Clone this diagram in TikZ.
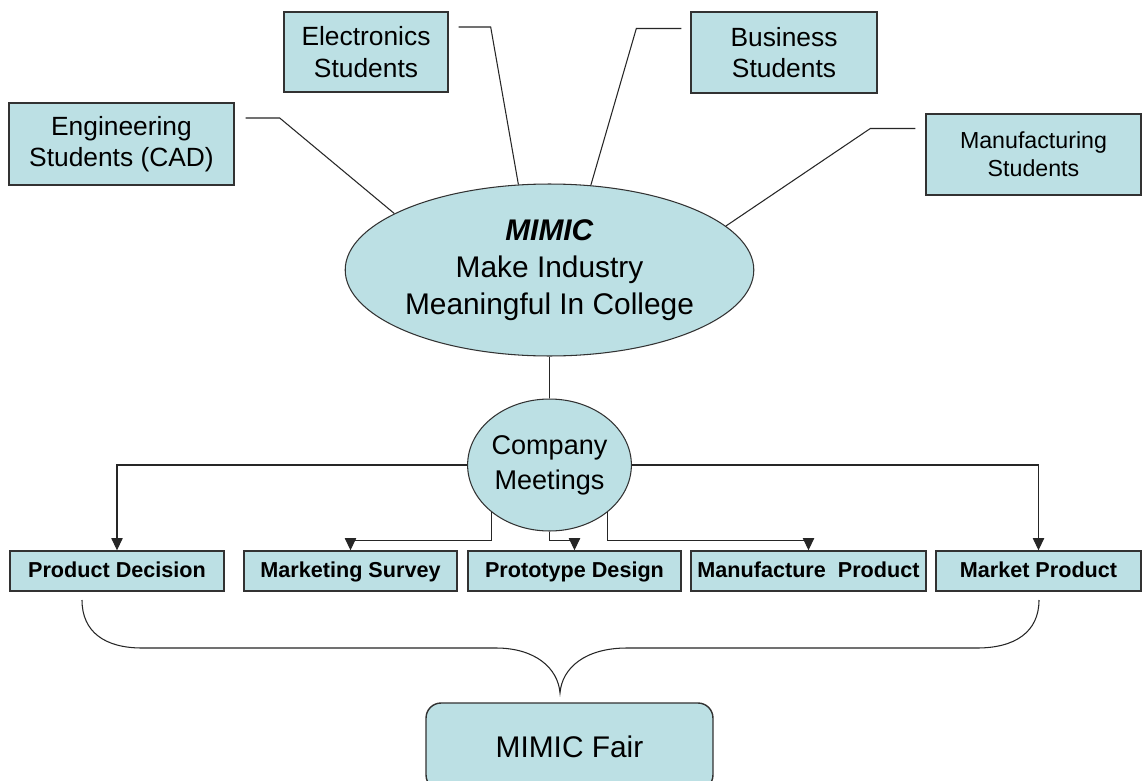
\documentclass[tikz,border=0pt]{standalone}
\usepackage{fontspec}
\setmainfont{Liberation Sans}
\usetikzlibrary{shapes.geometric,arrows.meta}
\definecolor{boxfill}{RGB}{188,224,228}
\definecolor{boxline}{RGB}{50,50,50}
\tikzset{
  student/.style={draw=boxline,fill=boxfill,line width=0.8pt,align=center,inner sep=0pt,font=\fontsize{15}{18}\selectfont},
  stage/.style={draw=boxline,fill=boxfill,line width=0.8pt,inner sep=0pt,minimum height=0.8cm,text height=0.72em,text depth=0pt,font=\bfseries\fontsize{12.3}{14}\selectfont},
  bubble/.style={ellipse,draw=boxline,fill=boxfill,line width=0.6pt,align=center,inner sep=0pt},
  link/.style={line width=0.6pt,black!85},
}
\begin{document}
\begin{tikzpicture}[x=0.02cm,y=-0.02cm,>={Triangle[length=7pt,width=6.5pt]}]
 \fill[white] (0,0) rectangle (1143,781);
 \useasboundingbox (0,0) rectangle (1143,781);
 % student groups
 \node[student,minimum width=4.5cm,minimum height=1.64cm] (eng) at (121.5,144) {Engineering\\Students (CAD)};
 \node[student,minimum width=3.28cm,minimum height=1.6cm] (elec) at (366,52) {Electronics\\Students};
 \node[student,minimum width=3.72cm,minimum height=1.62cm] (bus) at (784,52.5) {Business\\Students};
 \node[student,minimum width=4.3cm,minimum height=1.62cm,font=\fontsize{13.2}{16}\selectfont] (manu) at (1033.5,154.5) {Manufacturing\\Students};
 % centre and meetings
 \node[bubble,minimum width=7.34cm,minimum height=3.44cm,font=\fontsize{17}{21}\selectfont] (mimic) at (549.5,270) {\textbf{\textit{MIMIC}}\\Make Industry\\Meaningful In College};
 \node[bubble,minimum width=3.26cm,minimum height=2.64cm,font=\fontsize{15.4}{20}\selectfont] (meet) at (549.5,465) {Company\\Meetings};
 % stages
 \node[stage,minimum width=4.28cm] (pd) at (117,571) {Product Decision};
 \node[stage,minimum width=4.26cm] (ms) at (350.5,571) {Marketing Survey};
 \node[stage,minimum width=4.26cm] (pt) at (574.5,571) {Prototype Design};
 \node[stage,minimum width=4.7cm] (mp) at (808.5,571) {Manufacture\ \ Product};
 \node[stage,minimum width=4.1cm] (mk) at (1038.5,571) {Market Product};
 \node[draw=boxline,fill=boxfill,line width=0.8pt,rounded corners=0.3cm,minimum width=5.74cm,minimum height=1.74cm,font=\fontsize{17}{20}\selectfont] (fair) at (569.5,746.5) {MIMIC Fair};
 % links to the centre
 \draw[link] ([shift={(11,-26)}]eng.east) -- ++(34,0) -- (mimic.160);
 \draw[link] ([shift={(10,-25)}]elec.east) -- ++(32,0) -- (mimic.110);
 \draw[link] ([shift={(-9,-24)}]bus.west) -- ++(-45,0) -- (mimic.64);
 \draw[link] ([shift={(-10,-26)}]manu.west) -- ++(-45,0) -- (mimic.14);
 \draw[link] (mimic.south) -- (meet.north);
 % meetings to stages
 \draw[link,->] (meet.west) -| (pd.north);
 \draw[link,->] (meet.east) -| (mk.north);
 \draw[link,->] (meet.south west) |- ([yshift=0.2cm]ms.north) -- (ms.north);
 \draw[link,->] (meet.south) |- ([yshift=0.2cm]pt.north) -- (pt.north);
 \draw[link,->] (meet.south east) |- ([yshift=0.2cm]mp.north) -- (mp.north);
 % brace
 \draw[link] (82,600) .. controls (82,632) and (105,648) .. (142,648) -- (496,648)
   .. controls (535,648) and (558,668) .. (560,693)
   .. controls (562,668) and (585,648) .. (627,648) -- (977,648)
   .. controls (1015,648) and (1039,632) .. (1039,600);
\end{tikzpicture}
\end{document}
